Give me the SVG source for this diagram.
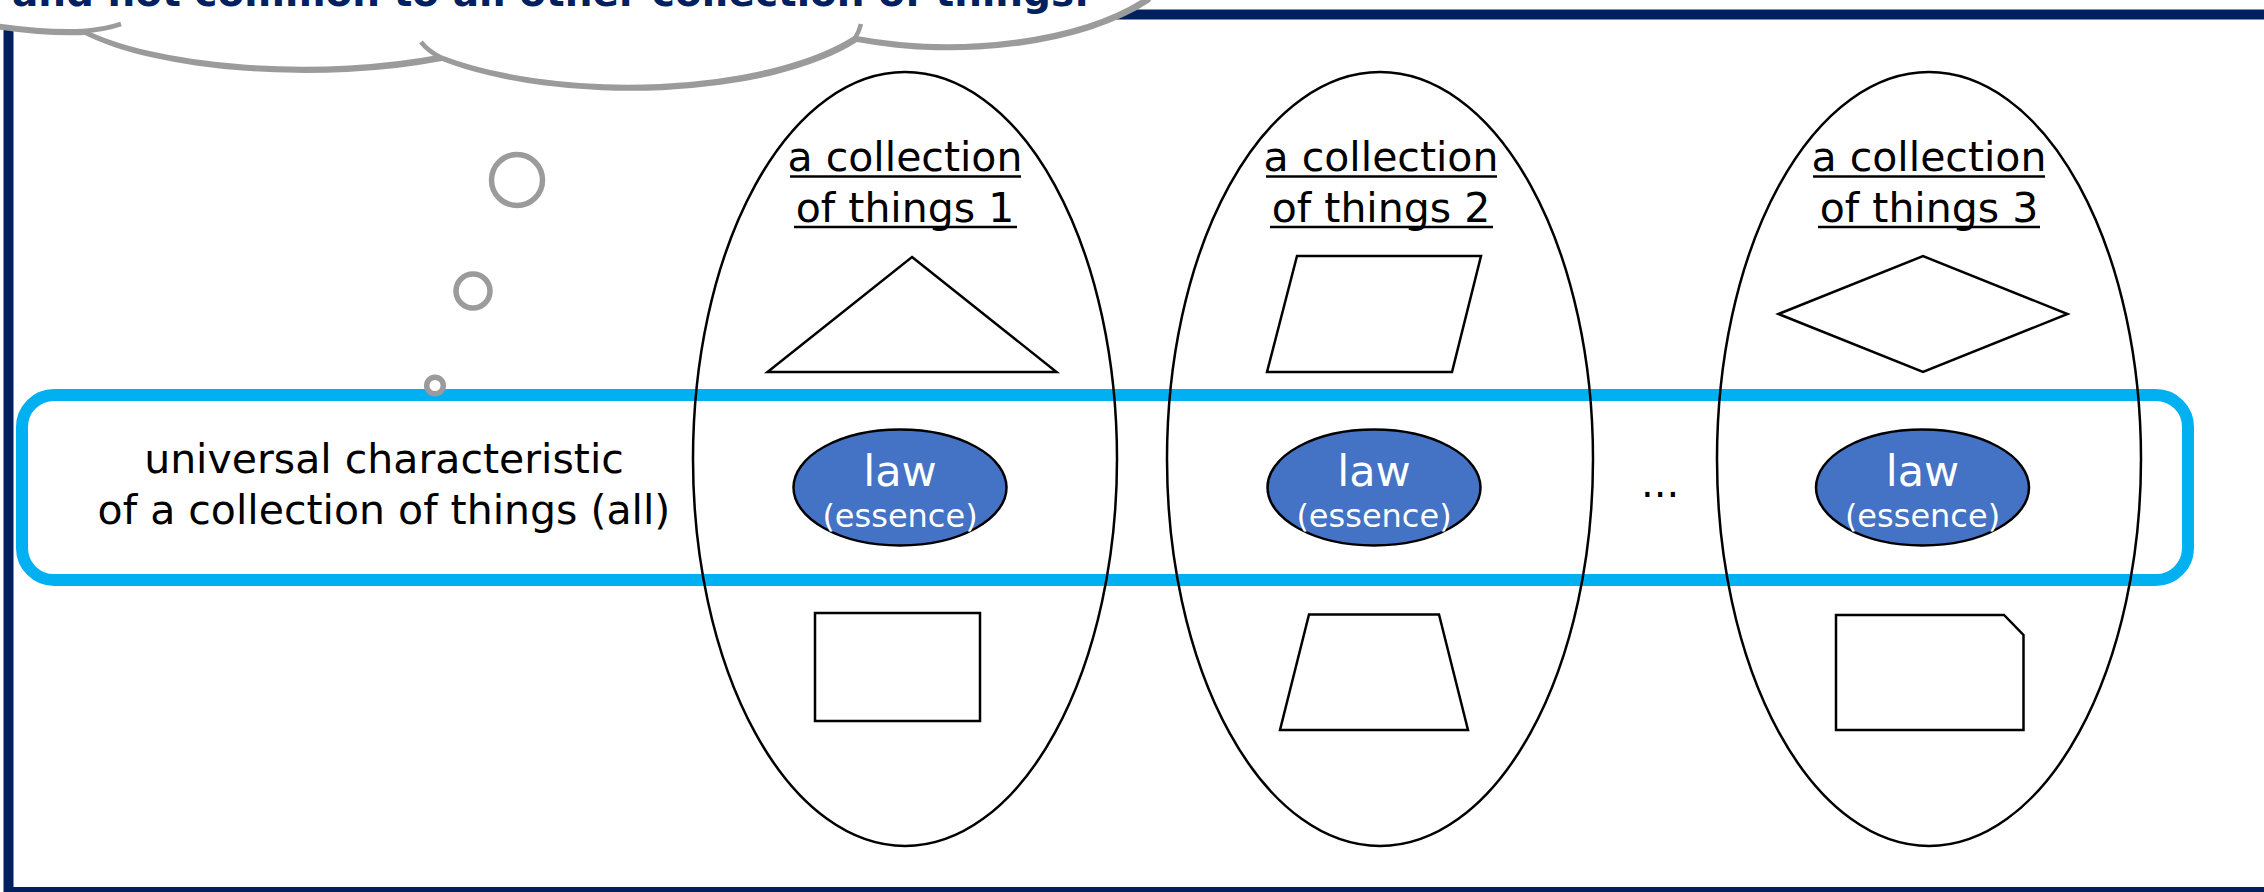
<svg xmlns="http://www.w3.org/2000/svg" width="2264" height="892" viewBox="0 0 2264 892">
<defs>
<style>
.frame{fill:none;stroke:#002060;stroke-width:10}
.band{fill:none;stroke:#00B0F0;stroke-width:12}
.coll{fill:none;stroke:#000;stroke-width:2.5}
.shape{fill:#fff;stroke:#000;stroke-width:2.5;stroke-linejoin:miter}
.law{fill:#4472C4;stroke:#000;stroke-width:2.5}
.t{font-family:"DejaVu Sans",Verdana,sans-serif;fill:#000}
.title{font-size:41px;text-anchor:middle}
.ul{stroke:#000;stroke-width:2.5}
.lawt{font-family:"DejaVu Sans",Verdana,sans-serif;fill:#fff;text-anchor:middle}
.cloud{fill:#fff;stroke:#9B9B9B;stroke-width:4.5;stroke-linejoin:round}
.crease{fill:none;stroke:#9B9B9B;stroke-width:4.5;stroke-linecap:butt}
.bub{fill:#fff;stroke:#9B9B9B;stroke-width:5.5}
</style>
<path id="cloudShape" d="M-20,-100 L-20,23 Q40,33 83,31 A257,78 0 0,0 440,57 A262,98 0 0,0 855,38 A242,110 0 0,0 1148,-2 L1200,-100 Z"/>
</defs>
<rect x="0" y="0" width="2264" height="892" fill="#fff"/>
<g id="frame">
<rect class="frame" x="8.5" y="14.5" width="2400" height="877.5"/>
</g>
<g id="universal-band">
<rect class="band" x="22" y="395" width="2166" height="185" rx="32" ry="32"/>
<text class="t" font-size="41" text-anchor="middle"><tspan x="384" y="473">universal characteristic</tspan><tspan x="384" y="524">of a collection of things (all)</tspan></text>
</g>
<g id="collection-1">
<ellipse class="coll" cx="905" cy="459" rx="212" ry="387"/>
<text class="t title"><tspan x="905" y="171">a collection</tspan><tspan x="905" y="221.5">of things 1</tspan></text>
<line class="ul" x1="790" y1="176.5" x2="1021" y2="176.5"/>
<line class="ul" x1="794" y1="227" x2="1017" y2="227"/>
<polygon class="shape" points="912,257 1056.5,372 767.5,372"/>
<ellipse class="law" cx="900" cy="487.5" rx="106.5" ry="58"/>
<text class="lawt" x="900" y="486" font-size="43">law</text>
<text class="lawt" x="900" y="527" font-size="32">(essence)</text>
<rect class="shape" x="815" y="613" width="165" height="108"/>
</g>
<g id="collection-2">
<ellipse class="coll" cx="1380" cy="459" rx="213" ry="387"/>
<text class="t title"><tspan x="1381" y="171">a collection</tspan><tspan x="1381" y="221.5">of things 2</tspan></text>
<line class="ul" x1="1266" y1="176.5" x2="1497" y2="176.5"/>
<line class="ul" x1="1270" y1="227" x2="1493" y2="227"/>
<polygon class="shape" points="1297,256 1481,256 1452,372 1267,372"/>
<ellipse class="law" cx="1374" cy="487.5" rx="106.5" ry="58"/>
<text class="lawt" x="1374" y="486" font-size="43">law</text>
<text class="lawt" x="1374" y="527" font-size="32">(essence)</text>
<polygon class="shape" points="1309,614.5 1439,614.5 1468,730 1280,730"/>
</g>
<g id="ellipsis">
<text class="t" x="1641" y="497" font-size="40">...</text>
</g>
<g id="collection-3">
<ellipse class="coll" cx="1929" cy="459" rx="212" ry="387"/>
<text class="t title"><tspan x="1929" y="171">a collection</tspan><tspan x="1929" y="221.5">of things 3</tspan></text>
<line class="ul" x1="1813" y1="176.5" x2="2045" y2="176.5"/>
<line class="ul" x1="1818" y1="227" x2="2040" y2="227"/>
<polygon class="shape" points="1778.5,314 1923,256 2067.5,314 1923,372"/>
<ellipse class="law" cx="1922.5" cy="487.5" rx="106.5" ry="58"/>
<text class="lawt" x="1922.5" y="486" font-size="43">law</text>
<text class="lawt" x="1922.5" y="527" font-size="32">(essence)</text>
<polygon class="shape" points="1836,615 2004,615 2023.5,635 2023.5,730 1836,730"/>
</g>
<g id="connectors">
<circle class="bub" cx="517" cy="180" r="25.5"/>
<circle class="bub" cx="473" cy="291" r="17"/>
<circle class="bub" cx="435" cy="385.5" r="8.3"/>
</g>
<g id="cloud">
<use href="#cloudShape" fill="#9B9B9B" transform="translate(2,4)"/>
<use href="#cloudShape" class="cloud"/>
<path class="crease" d="M83,31 Q103,30 121,24"/>
<path class="crease" d="M440,57 Q428,51 421,42"/>
<path class="crease" d="M855,38 Q859,32 861,24"/>
<text x="12" y="6" font-family="'DejaVu Sans',Verdana,sans-serif" font-weight="bold" font-size="39" fill="#002060">and not common to all other collection of things.</text>
</g>
</svg>
